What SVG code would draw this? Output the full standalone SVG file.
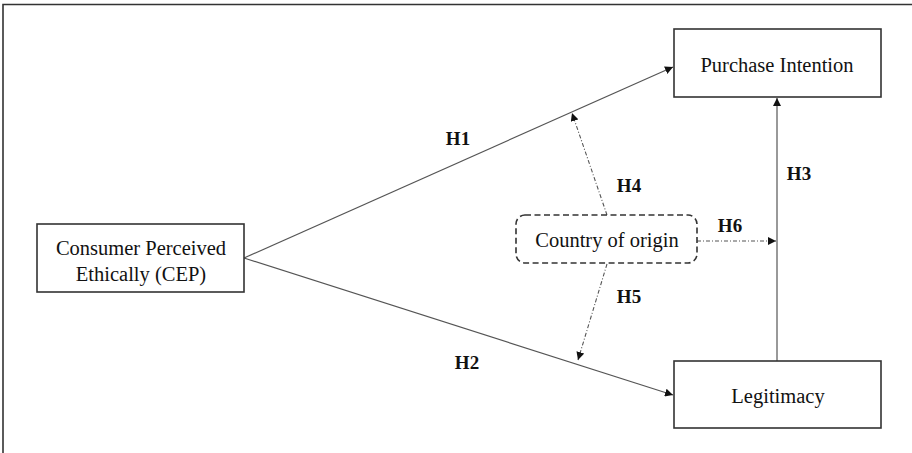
<svg xmlns="http://www.w3.org/2000/svg" width="912" height="453" viewBox="0 0 912 453">
<defs>
<marker id="ah" viewBox="0 0 10 10" refX="10" refY="5" markerWidth="8" markerHeight="8" markerUnits="userSpaceOnUse" orient="auto">
<path d="M0,0 L10,5 L0,10 z" fill="#111"/>
</marker>
</defs>
<style>
.box{fill:#fff;stroke:#333;stroke-width:1.6}
.lbl{font-family:"Liberation Serif","Times New Roman",serif;font-size:20.5px;fill:#111;text-anchor:middle}
.h{font-family:"Liberation Serif","Times New Roman",serif;font-size:19px;font-weight:bold;fill:#111;text-anchor:middle}
.ln{stroke:#555;stroke-width:1.2;fill:none}
.dd{stroke:#555;stroke-width:1.1;fill:none;stroke-dasharray:4 2 1 2}
</style>
<rect width="912" height="453" fill="#fff"/>
<path d="M3,453 L3,4.5 L912,4.5" fill="none" stroke="#333" stroke-width="1.6"/>
<g id="connectors">
<line class="ln" x1="244" y1="258" x2="673" y2="67" marker-end="url(#ah)"/>
<line class="ln" x1="244" y1="258" x2="673" y2="395" marker-end="url(#ah)"/>
<line class="ln" x1="777" y1="361" x2="777" y2="98" marker-end="url(#ah)"/>
<line class="dd" x1="697" y1="241" x2="776" y2="241" marker-end="url(#ah)"/>
<line class="dd" x1="607" y1="215" x2="572" y2="113" marker-end="url(#ah)"/>
<line class="dd" x1="607" y1="264" x2="578" y2="360" marker-end="url(#ah)"/>
</g>
<g id="node-pi">
<rect class="box" x="674" y="29" width="207" height="68"/>
<text class="lbl" x="777" y="72">Purchase Intention</text>
</g>
<g id="node-leg">
<rect class="box" x="674" y="361" width="207" height="67"/>
<text class="lbl" x="778" y="403">Legitimacy</text>
</g>
<g id="node-cep">
<rect class="box" x="37" y="224" width="207" height="68"/>
<text class="lbl" x="141" y="255">Consumer Perceived</text>
<text class="lbl" x="141" y="281">Ethically (CEP)</text>
</g>
<g id="node-coo">
<rect x="516" y="215" width="181" height="48" rx="9" ry="9" fill="#fff" stroke="#333" stroke-width="1.6" stroke-dasharray="6 3.5"/>
<text class="lbl" x="607" y="247">Country of origin</text>
</g>
<g id="labels">
<text class="h" x="458" y="145">H1</text>
<text class="h" x="467" y="369">H2</text>
<text class="h" x="799" y="180">H3</text>
<text class="h" x="629" y="192">H4</text>
<text class="h" x="629" y="303">H5</text>
<text class="h" x="730" y="232">H6</text>
</g>
</svg>
